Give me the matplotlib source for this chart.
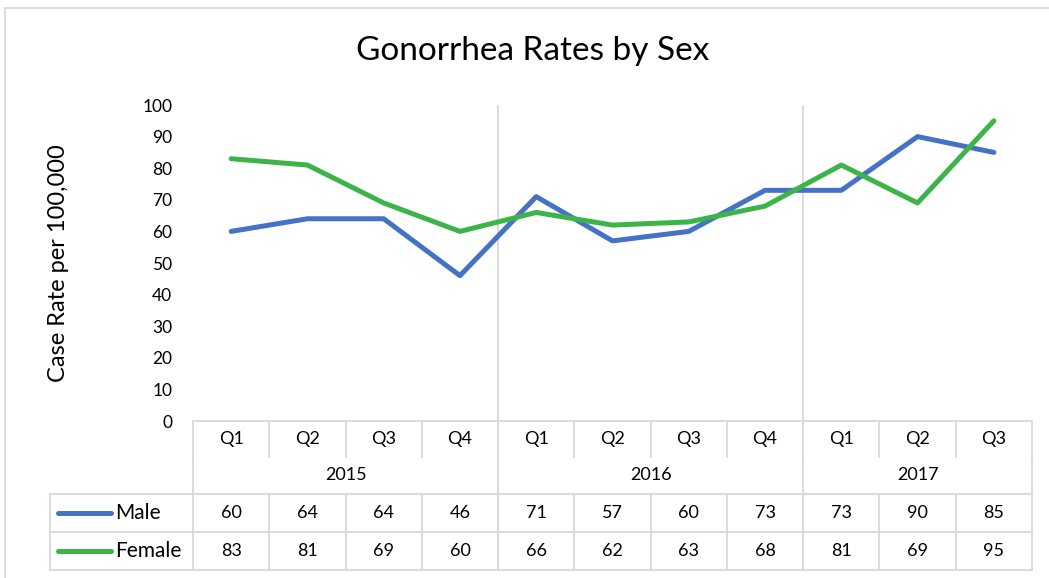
import matplotlib.pyplot as plt
import matplotlib.transforms as mtransforms
from matplotlib.lines import Line2D

quarters = ['Q1', 'Q2', 'Q3', 'Q4', 'Q1', 'Q2', 'Q3', 'Q4', 'Q1', 'Q2', 'Q3']
years = ['2015', '2016', '2017']
year_spans = [(0, 4), (4, 8), (8, 11)]
male = [60, 64, 64, 46, 71, 57, 60, 73, 73, 90, 85]
female = [83, 81, 69, 60, 66, 62, 63, 68, 81, 69, 95]

plt.rcParams['font.family'] = ['Lato', 'DejaVu Sans']

W, H = 1049, 578
fig = plt.figure(figsize=(W / 100, H / 100), dpi=100)


def fy(py):
    # pixel row -> figure fraction
    return 1 - py / H


def fx(px):
    return px / W


ax = fig.add_axes([fx(193), fy(421), fx(1032) - fx(193), fy(105) - fy(421)])
x = list(range(len(quarters)))
blue = '#4472C4'
green = '#3CB44A'
ax.plot(x, male, color=blue, lw=3.6, solid_joinstyle='round', solid_capstyle='round', zorder=3)
ax.plot(x, female, color=green, lw=3.6, solid_joinstyle='round', solid_capstyle='round', zorder=4)
ax.set_xlim(-0.5, len(quarters) - 0.5)
ax.set_ylim(0, 100)
ax.set_yticks(range(0, 101, 10))
ax.tick_params(axis='y', length=0, labelsize=12.5, pad=15)
ax.set_xticks([])
for s in ax.spines.values():
    s.set_visible(False)
ax.set_ylabel('Case Rate per 100,000', fontsize=17)
ax.yaxis.set_label_coords(-(193 - 69) / (1032 - 193), 0.5)

grid = '#D9D9D9'
tr = mtransforms.blended_transform_factory(ax.transData, fig.transFigure)

# year separators inside the plot
for a, b in year_spans[1:]:
    ax.axvline(a - 0.5, color=grid, lw=1.3, zorder=1)

rows = [421, 457, 494, 532, 570]
xl, xr = -0.5, len(quarters) - 0.5
kw = dict(color=grid, lw=1.3, transform=tr, clip_on=False)
fig.add_artist(Line2D([xl, xr], [fy(rows[0])] * 2, **kw))
for r in rows[2:]:
    fig.add_artist(Line2D([xl, xr], [fy(r)] * 2, **kw))
# quarter separators
for i in range(len(quarters) + 1):
    fig.add_artist(Line2D([i - 0.5] * 2, [fy(rows[0]), fy(rows[1])], **kw))
# year separators through year row and data rows
for a, b in year_spans:
    fig.add_artist(Line2D([a - 0.5] * 2, [fy(rows[1]), fy(rows[4])], **kw))
fig.add_artist(Line2D([xr] * 2, [fy(rows[1]), fy(rows[4])], **kw))
for i in range(1, len(quarters)):
    fig.add_artist(Line2D([i - 0.5] * 2, [fy(rows[2]), fy(rows[4])], **kw))

# legend column box
kwf = dict(color=grid, lw=1.3, transform=fig.transFigure)
fig.add_artist(Line2D([fx(50), fx(193)], [fy(rows[2])] * 2, **kwf))
fig.add_artist(Line2D([fx(50), fx(193)], [fy(rows[3])] * 2, **kwf))
fig.add_artist(Line2D([fx(50), fx(193)], [fy(rows[4])] * 2, **kwf))
fig.add_artist(Line2D([fx(50)] * 2, [fy(rows[2]), fy(rows[4])], **kwf))

fs = 13
for i, q in enumerate(quarters):
    fig.text(i, fy((rows[0] + rows[1]) / 2), q, transform=tr, ha='center', va='center', fontsize=fs)
for (a, b), yr in zip(year_spans, years):
    fig.text((a + b - 1) / 2, fy((rows[1] + rows[2]) / 2), yr, transform=tr, ha='center', va='center', fontsize=fs)
for r, (name, vals, col) in enumerate([('Male', male, blue), ('Female', female, green)]):
    yc = fy((rows[2 + r] + rows[3 + r]) / 2)
    for i, v in enumerate(vals):
        fig.text(i, yc, str(v), transform=tr, ha='center', va='center', fontsize=fs)
    fig.add_artist(Line2D([fx(58), fx(111)], [yc, yc], color=col, lw=3.6,
                          solid_capstyle='round', transform=fig.transFigure))
    fig.text(fx(115), yc, name, ha='left', va='center', fontsize=15)

fig.text(fx(533), fy(51), 'Gonorrhea Rates by Sex', ha='center', va='center', fontsize=24)

# outer chart border
fig.add_artist(Line2D([fx(4.5), fx(4.5)], [0, fy(7.5)], color=grid, lw=1.3, transform=fig.transFigure))
fig.add_artist(Line2D([fx(4.5), 1], [fy(7.5), fy(7.5)], color=grid, lw=1.3, transform=fig.transFigure))

fig.savefig('out.png', dpi=100)
